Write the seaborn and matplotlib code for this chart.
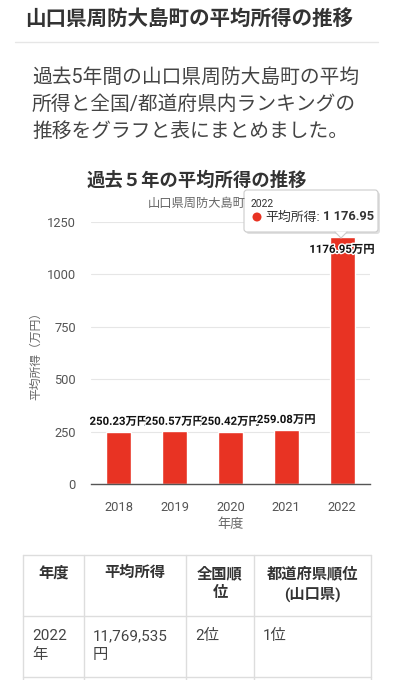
import matplotlib
matplotlib.use("Agg")
import matplotlib.pyplot as plt
import matplotlib.patheffects as pe
from matplotlib.patches import FancyBboxPatch, Polygon, Circle
import seaborn as sns
import pandas as pd

# データ
years = ["2018", "2019", "2020", "2021", "2022"]
income = [250.23, 250.57, 250.42, 259.08, 1176.95]
yticks = [0, 250, 500, 750, 1000, 1250]

table_header = ["年度", "平均所得", "全国順\n位", "都道府県順位\n(山口県)"]
table_row = ["2022\n年", "11,769,535\n円", "2位", "1位"]

page_title = "山口県周防大島町の平均所得の推移"
intro = ["過去5年間の山口県周防大島町の平均",
         "所得と全国/都道府県内ランキングの",
         "推移をグラフと表にまとめました。"]
chart_title = "過去５年の平均所得の推移"
chart_sub = "山口県周防大島町"

df = pd.DataFrame({"year": years, "income": income})

sns.set_style("white")
plt.rcParams["font.family"] = ["Roboto", "Noto Sans CJK JP", "DejaVu Sans"]

W, H = 394, 680
fig = plt.figure(figsize=(W / 100, H / 100), dpi=100)
fig.patch.set_facecolor("white")

# グラフ部分 (ピクセル位置から)
left, right, top, bottom = 91, 370, 222, 484
ax = fig.add_axes([left / W, 1 - bottom / H, (right - left) / W, (bottom - top) / H])
red = "#e83323"
sns.barplot(data=df, x="year", y="income", color=red, width=0.45,
            errorbar=None, ax=ax, saturation=1)
ax.set_ylim(0, 1250)
ax.set_xlim(-0.5, 4.5)
ax.set_yticks(yticks)
ax.set_yticklabels([str(t) for t in yticks])
ax.grid(axis="y", color="#e6e6e6", linewidth=0.8)
ax.set_axisbelow(True)
for s in ["top", "right", "left"]:
    ax.spines[s].set_visible(False)
ax.spines["bottom"].set_color("#555555")
ax.spines["bottom"].set_linewidth(1)
ax.tick_params(axis="both", length=0, labelsize=9.3, colors="#555555")
ax.tick_params(axis="x", pad=12)
ax.tick_params(axis="y", pad=11)
ax.set_xlabel("年度", fontsize=9.5, color="#666666", labelpad=3)
ax.set_ylabel("平均所得（万円）", fontsize=8.5, color="#666666", labelpad=3)

outline = [pe.withStroke(linewidth=2, foreground="white")]
for i, v in enumerate(income):
    off = 7 if v < 1100 else -9
    ax.annotate(f"{v:.2f}万円", (i, v), xytext=(0, off), textcoords="offset points",
                ha="center", va="center", fontsize=8.2, fontweight="bold",
                color="#111111", path_effects=outline, annotation_clip=False)

# ページ部分 (ピクセル座標)
pg = fig.add_axes([0, 0, 1, 1], zorder=5)
pg.set_xlim(0, W)
pg.set_ylim(H, 0)
pg.axis("off")
pg.patch.set_visible(False)

pg.text(25, 19, page_title, fontsize=14.8, fontweight="bold", color="#333333",
        ha="left", va="center")
pg.plot([15, 378], [42, 42], color="#e6e6e6", linewidth=1)
for k, line in enumerate(intro):
    pg.text(32, 77 + 27 * k, line, fontsize=14.2, color="#444444", ha="left", va="center")

pg.text(197, 181, chart_title, fontsize=13.2, fontweight="bold", color="#333333",
        ha="center", va="center")
pg.text(197, 203, chart_sub, fontsize=8.8, color="#666666", ha="center", va="center")

# ツールチップ
shadow = FancyBboxPatch((246, 192), 134, 42, boxstyle="round,pad=0,rounding_size=3",
                        facecolor="#000000", alpha=0.12, edgecolor="none")
pg.add_patch(shadow)
box = FancyBboxPatch((244, 190), 134, 42, boxstyle="round,pad=0,rounding_size=3",
                     facecolor="white", edgecolor="#cccccc", linewidth=0.8)
pg.add_patch(box)
pg.add_patch(Polygon([[335, 231.5], [347, 231.5], [341, 238]], closed=True,
                     facecolor="white", edgecolor="none"))
pg.plot([335, 341, 347], [232, 238, 232], color="#cccccc", linewidth=0.8)
pg.text(251, 204, years[-1], fontsize=7.5, color="#333333", ha="left", va="center")
pg.add_patch(Circle((257, 217), 4.5, facecolor=red, edgecolor="none"))
pg.text(265, 217, "平均所得:", fontsize=9.3, color="#333333", ha="left", va="center")
pg.text(323, 217, "1 176.95", fontsize=9.3, fontweight="bold", color="#333333",
        ha="left", va="center")

# 表
cols = [23, 84, 186, 254, 371]
rows = [555, 616, 677]
for x in cols:
    pg.plot([x, x], [rows[0], H], color="#dddddd", linewidth=1)
for y in rows:
    pg.plot([cols[0], cols[-1]], [y, y], color="#dddddd", linewidth=1)
for j, txt in enumerate(table_header):
    cx = (cols[j] + cols[j + 1]) / 2
    pg.text(cx, 566, txt, fontsize=11, fontweight="bold", color="#333333",
            ha="center", va="top", linespacing=1.45)
for j, txt in enumerate(table_row):
    pg.text(cols[j] + 9, 629, txt, fontsize=11, color="#444444", ha="left",
            va="top", linespacing=1.45)

fig.savefig("out.png", dpi=100)
